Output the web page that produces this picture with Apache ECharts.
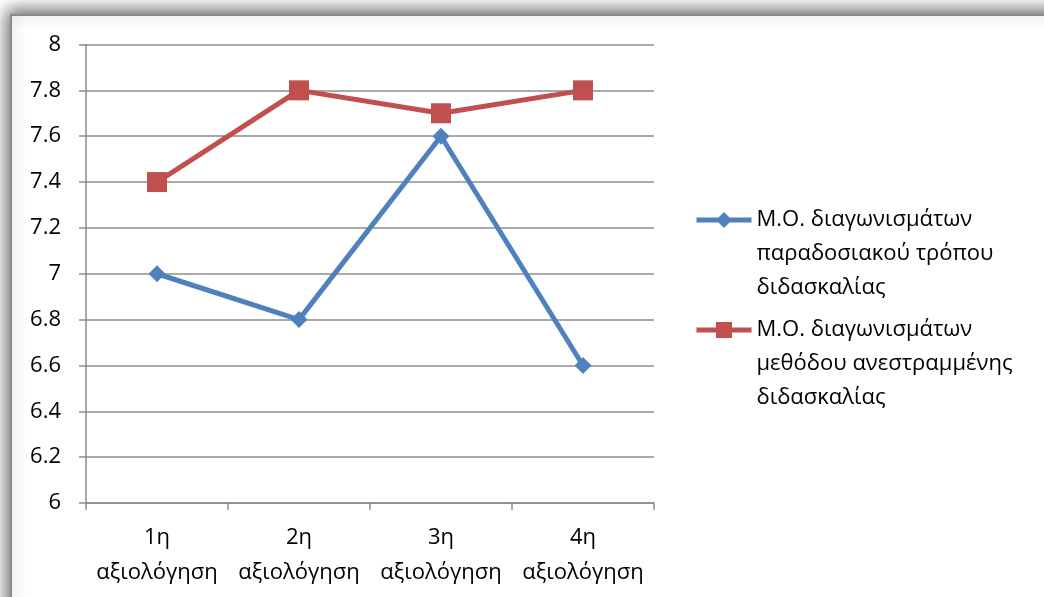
<!DOCTYPE html>
<html>
<head>
<meta charset="utf-8">
<style>
  html, body { margin: 0; padding: 0; background: #ffffff; }
  #chart { width: 1044px; height: 597px; }
</style>
<script src="https://cdn.jsdelivr.net/npm/echarts@6/dist/echarts.min.js"></script>
</head>
<body>
<div id="chart"></div>
<script>
// Assessment rounds (x axis)
const categories = ['1η\nαξιολόγηση', '2η\nαξιολόγηση', '3η\nαξιολόγηση', '4η\nαξιολόγηση'];

// Mean test scores per round
const traditionalName = 'Μ.Ο. διαγωνισμάτων παραδοσιακού τρόπου διδασκαλίας';
const traditionalValues = [7.0, 6.8, 7.6, 6.6];

const flippedName = 'Μ.Ο. διαγωνισμάτων μεθόδου ανεστραμμένης διδασκαλίας';
const flippedValues = [7.4, 7.8, 7.7, 7.8];

// Legend labels wrapped onto three lines
const legendLines = {};
legendLines[traditionalName] = ['Μ.Ο. διαγωνισμάτων', 'παραδοσιακού τρόπου', 'διδασκαλίας'];
legendLines[flippedName] = ['Μ.Ο. διαγωνισμάτων', 'μεθόδου ανεστραμμένης', 'διδασκαλίας'];

// Value axis range
const yMin = 6, yMax = 8, yStep = 0.2;

const FONT = '"Open Sans", "Noto Sans", sans-serif';
const FONT_SIZE = 22;
const BLUE = '#4f81bd';
const RED = '#c0504d';
const GRID_GRAY = '#8c8c8c';

const chart = echarts.init(document.getElementById('chart'), null, { renderer: 'canvas' });

// One legend per series; two blank leading lines keep the first text line
// level with the legend symbol (the text block is centred on the symbol).
function legendFor(name, top) {
  return {
    data: [name],
    orient: 'vertical',
    left: 694,
    top: top,
    itemWidth: 55,
    itemHeight: 20,
    itemGap: 0,
    padding: 0,
    lineStyle: { width: 5 },
    formatter: n => '\n\n' + legendLines[n].join('\n'),
    textStyle: {
      fontFamily: FONT,
      fontSize: FONT_SIZE,
      color: '#000',
      lineHeight: 34
    }
  };
}

chart.setOption({
  animation: false,
  textStyle: { fontFamily: FONT },
  graphic: [{
    type: 'rect',
    z: -10,
    silent: true,
    shape: { x: 11, y: 15, width: 1100, height: 700 },
    style: {
      fill: '#ffffff',
      stroke: '#8a8a8a',
      lineWidth: 2,
      shadowBlur: 16,
      shadowOffsetX: -3,
      shadowOffsetY: -4,
      shadowColor: 'rgba(0,0,0,0.6)'
    }
  }],
  grid: { left: 86, top: 44.5, right: 390, bottom: 94, containLabel: false },
  legend: [legendFor(traditionalName, 135), legendFor(flippedName, 245)],
  xAxis: {
    type: 'category',
    data: categories,
    boundaryGap: true,
    axisLine: { show: true, lineStyle: { color: GRID_GRAY, width: 1.5 } },
    axisTick: { show: true, interval: 0, length: 7, alignWithLabel: false, lineStyle: { color: GRID_GRAY, width: 1.5 } },
    axisLabel: {
      interval: 0,
      color: '#000',
      fontSize: FONT_SIZE,
      lineHeight: 35,
      margin: 17,
      fontFamily: FONT
    }
  },
  yAxis: {
    type: 'value',
    min: yMin,
    max: yMax,
    interval: yStep,
    axisLine: { show: true, lineStyle: { color: GRID_GRAY, width: 1.5 } },
    axisTick: { show: true, length: 7, lineStyle: { color: GRID_GRAY, width: 1.5 } },
    splitLine: { show: true, lineStyle: { color: GRID_GRAY, width: 1.5 } },
    axisLabel: {
      color: '#000',
      fontSize: FONT_SIZE,
      margin: 25,
      fontFamily: FONT,
      formatter: v => String(Math.round(v * 10) / 10)
    }
  },
  series: [
    {
      name: traditionalName,
      type: 'line',
      data: traditionalValues,
      symbol: 'diamond',
      symbolSize: 17,
      showAllSymbol: true,
      lineStyle: { color: BLUE, width: 5 },
      itemStyle: { color: BLUE },
      z: 3
    },
    {
      name: flippedName,
      type: 'line',
      data: flippedValues,
      symbol: 'rect',
      symbolSize: 20,
      showAllSymbol: true,
      lineStyle: { color: RED, width: 5 },
      itemStyle: { color: RED },
      z: 4
    }
  ]
});
</script>
</body>
</html>
